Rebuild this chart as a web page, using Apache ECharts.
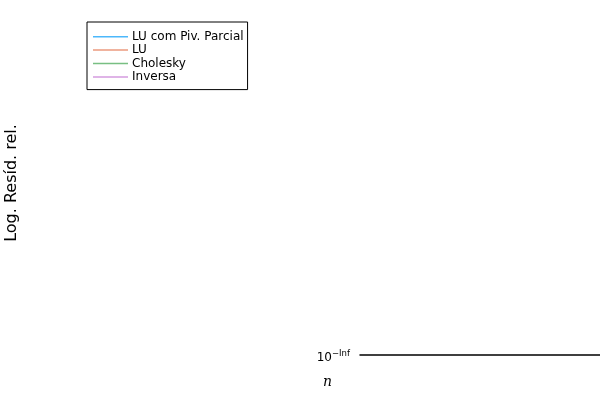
<!DOCTYPE html>
<html>
<head>
<meta charset="utf-8">
<script src="https://cdn.jsdelivr.net/npm/echarts@6/dist/echarts.min.js"></script>
<style>html,body{margin:0;padding:0;background:#fff}#c{width:600px;height:400px}</style>
</head>
<body>
<div id="c"></div>
<script>
// Series names (legend) — no finite values are drawn in the reference
const seriesNames = ['LU com Piv. Parcial', 'LU', 'Cholesky', 'Inversa'];
const seriesColors = ['#009AFA', '#E36F47', '#3EA44E', '#C371D2'];
// All residuals are -Inf on the log axis, so nothing visible is plotted
const luPivValues = [];
const luValues = [];
const choleskyValues = [];
const inversaValues = [];
const yTickLabels = ['−Inf'];

const allValues = [luPivValues, luValues, choleskyValues, inversaValues];

const chart = echarts.init(document.getElementById('c'), null, {renderer: 'canvas'});
chart.setOption({
  animation: false,
  backgroundColor: '#fff',
  textStyle: {fontFamily: 'DejaVu Sans'},
  grid: {left: 360, right: 0, top: 11, bottom: 45, containLabel: false},
  legend: {
    orient: 'vertical',
    left: 87, top: 22,
    padding: [8, 4, 6, 6],
    itemGap: 0,
    itemWidth: 35, itemHeight: 1.5,
    icon: 'rect',
    itemStyle: {opacity: 0.7},
    backgroundColor: '#fff',
    borderColor: '#000', borderWidth: 1, borderRadius: 0,
    textStyle: {fontFamily: 'DejaVu Sans', fontSize: 12, color: '#000', lineHeight: 13.4, padding: [0, 0, 0, -1]},
    data: seriesNames
  },
  xAxis: {
    type: 'value', min: 0, max: 1,
    axisLine: {show: true, onZero: false, lineStyle: {color: '#000', width: 1.5}},
    axisTick: {show: false},
    axisLabel: {show: false},
    splitLine: {show: false}
  },
  yAxis: {
    type: 'value', min: 0, max: 1, interval: 1,
    name: 'Log. Resíd. rel.',
    nameLocation: 'middle',
    nameGap: 340,
    nameTextStyle: {fontFamily: 'DejaVu Sans', fontSize: 16, color: '#000'},
    axisLine: {show: false},
    axisTick: {show: false},
    splitLine: {show: false},
    axisLabel: {
      margin: 10,
      padding: [6, 0, 0, 0],
      formatter: function (v) { return v === 0 ? '{b|10}{s|' + yTickLabels[0] + '}' : ''; },
      rich: {
        b: {fontFamily: 'DejaVu Sans', fontSize: 12, color: '#000'},
        s: {fontFamily: 'DejaVu Sans', fontSize: 8.5, color: '#000', verticalAlign: 'top', padding: [0, 0, 8, 0]}
      }
    }
  },
  graphic: [{
    type: 'text', left: 323, top: 375,
    style: {text: 'n', fontFamily: 'DejaVu Serif', fontStyle: 'italic', fontSize: 14, fill: '#000'}
  }],
  series: seriesNames.map(function (name, i) {
    return {
      name: name, type: 'line', showSymbol: false,
      data: allValues[i],
      itemStyle: {color: seriesColors[i]},
      lineStyle: {color: seriesColors[i], width: 1}
    };
  })
});
</script>
</body>
</html>
